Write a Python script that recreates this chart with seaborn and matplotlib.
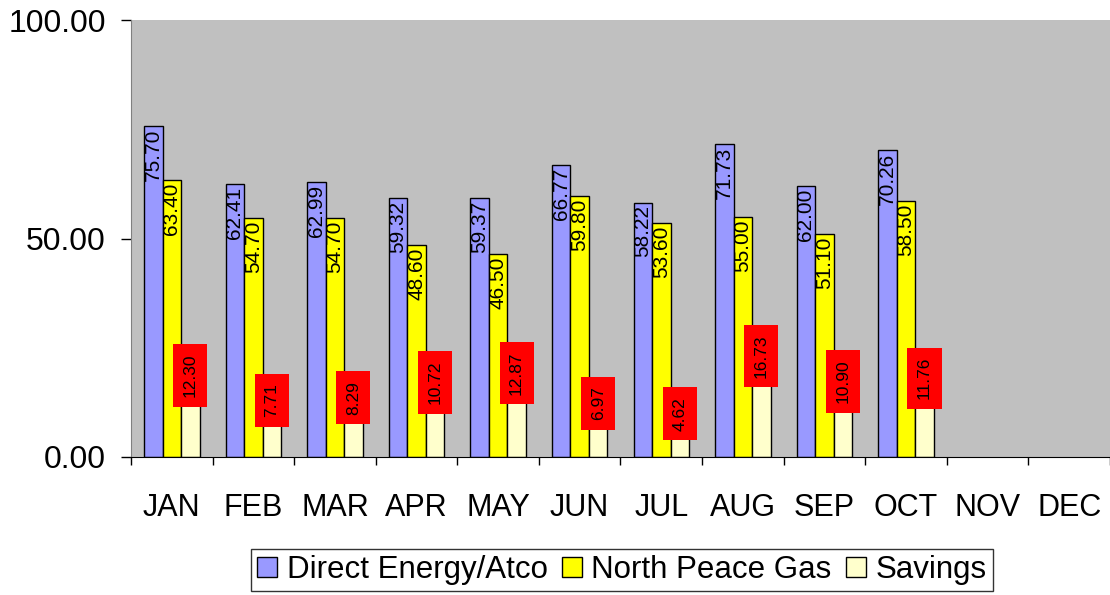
import numpy as np
import pandas as pd
import seaborn as sns
import matplotlib.pyplot as plt
from matplotlib.ticker import FixedLocator, FormatStrFormatter

months = ["JAN", "FEB", "MAR", "APR", "MAY", "JUN", "JUL", "AUG", "SEP", "OCT", "NOV", "DEC"]
series = ["Direct Energy/Atco", "North Peace Gas", "Savings"]
direct = [75.70, 62.41, 62.99, 59.32, 59.37, 66.77, 58.22, 71.73, 62.00, 70.26]
npg = [63.40, 54.70, 54.70, 48.60, 46.50, 59.80, 53.60, 55.00, 51.10, 58.50]
savings = [12.30, 7.71, 8.29, 10.72, 12.87, 6.97, 4.62, 16.73, 10.90, 11.76]
colors = ["#9999FF", "#FFFF00", "#FFFFCC"]

rows = []
for name, vals in zip(series, [direct, npg, savings]):
    for m, v in zip(months, vals):
        rows.append({"month": m, "series": name, "value": v})
df = pd.DataFrame(rows)

sns.set_style("white")
plt.rcParams["font.family"] = ["Liberation Sans", "DejaVu Sans"]
plt.rcParams["text.color"] = "black"
plt.rcParams["xtick.color"] = "black"
plt.rcParams["ytick.color"] = "black"

fig = plt.figure(figsize=(11.1, 5.95), dpi=100)
ax = fig.add_axes([0.118, 0.232, 0.882, 0.734])
ax.set_facecolor("#C0C0C0")

sns.barplot(data=df, x="month", y="value", hue="series", order=months,
            hue_order=series, palette=colors, width=0.68, gap=0,
            edgecolor="black", linewidth=1, saturation=1, ax=ax, legend=True)

ax.set_xlim(-0.5, 11.5)
ax.set_ylim(0, 100)
ax.set_yticks([0, 50, 100])
ax.yaxis.set_major_formatter(FormatStrFormatter("%.2f"))
ax.tick_params(axis="y", labelsize=23, length=7, width=1, direction="out", left=True, pad=11)
ax.xaxis.set_minor_locator(FixedLocator(np.arange(-0.5, 12, 1)))
ax.tick_params(axis="x", which="major", length=0, labelsize=22, pad=26)
ax.tick_params(axis="x", which="minor", length=6, width=1, direction="out", bottom=True)
ax.set_xlabel("")
ax.set_ylabel("")

for s in ["top", "right"]:
    ax.spines[s].set_visible(False)
ax.spines["left"].set_color("#808080")
ax.spines["bottom"].set_color("black")

# labels inside the top of the first two series, boxed labels above savings
for i, cont in enumerate(ax.containers):
    for bar in cont:
        h = bar.get_height()
        if np.isnan(h):
            continue
        x = bar.get_x() + bar.get_width() / 2
        if i < 2:
            ax.text(x, h - 0.6, f"{h:.2f}", rotation=90, ha="center", va="top",
                    fontsize=15, color="black")
        else:
            ax.text(x, h + 1.4, f"{h:.2f}", rotation=90, ha="center", va="bottom",
                    fontsize=12.5, color="black",
                    bbox=dict(boxstyle="square,pad=0.55", facecolor="red", edgecolor="none"))

handles, labels = ax.get_legend_handles_labels()
ax.legend_.remove()
fig.legend(handles, labels, loc="center", bbox_to_anchor=(0.56, 0.042), ncol=3,
           fontsize=22.5, frameon=True, fancybox=False, edgecolor="black",
           handlelength=0.65, handleheight=0.65, handletextpad=0.3, columnspacing=0.45,
           borderpad=0.2, borderaxespad=0)

fig.savefig("out.png", dpi=100)
